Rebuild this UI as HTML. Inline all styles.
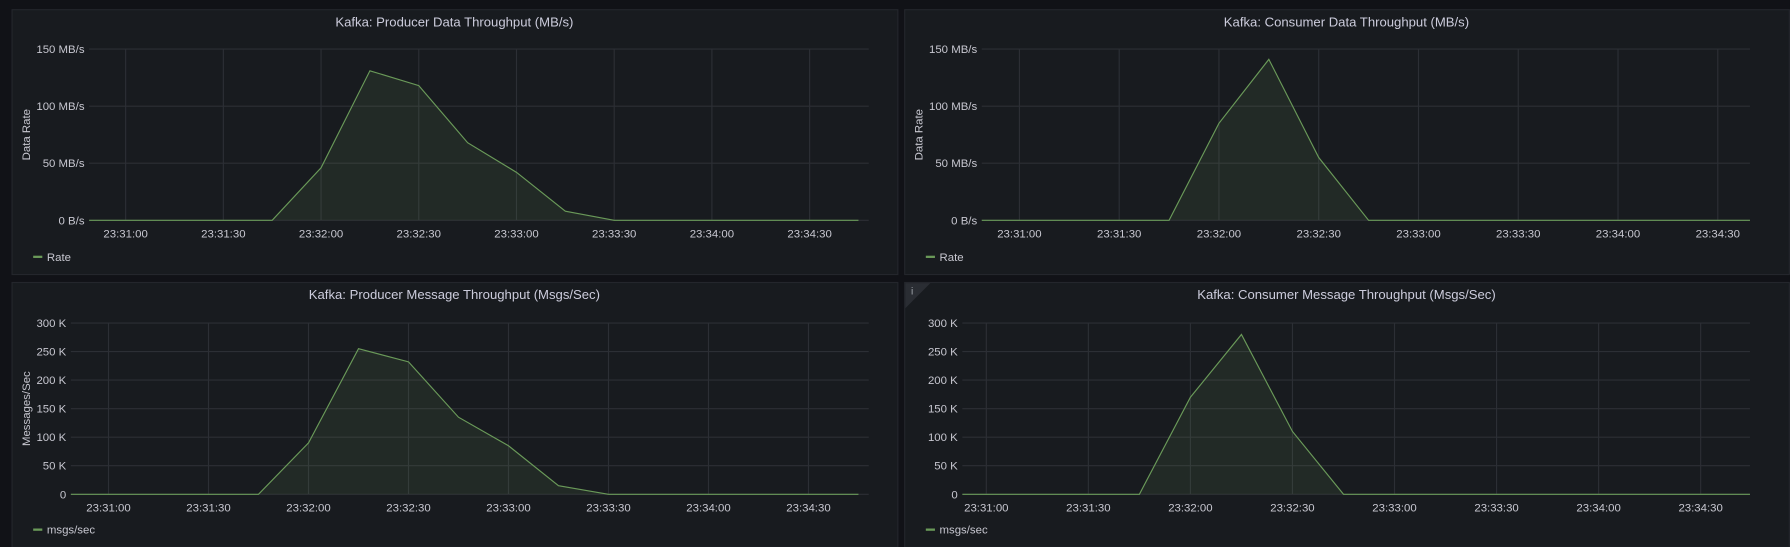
<!DOCTYPE html>
<html><head><meta charset="utf-8"><style>
html,body{margin:0;padding:0;background:#111217;}
svg{display:block;font-family:"Liberation Sans",sans-serif;}
</style></head><body>
<svg id="c" width="1790" height="547" viewBox="0 0 1568 479.2"></svg>
<script>
// data (time in seconds after 23:30:00)
const times = [45,60,75,90,105,120,135,150,165,180,195,210,225,240,255,270,285];
const tickLabels = ["23:31:00","23:31:30","23:32:00","23:32:30","23:33:00","23:33:30","23:34:00","23:34:30"];
const tickTimes = [60,90,120,150,180,210,240,270];
const producerMB = [0,0,0,0,0,46,131,118,68,42,8,0,0,0,0,0,0];
const consumerMB = [0,0,0,0,0,85,141,55,0,0,0,0,0,0,0,0,0];
const producerMsgs = [0,0,0,0,0,90,255,232,135,85,15,0,0,0,0,0,0];
const consumerMsgs = [0,0,0,0,0,170,280,110,0,0,0,0,0,0,0,0,0];
const mbTicks = [0,50,100,150];
const mbLabels = ["0 B/s","50 MB/s","100 MB/s","150 MB/s"];
const kTicks = [0,50,100,150,200,250,300];
const kLabels = ["0","50 K","100 K","150 K","200 K","250 K","300 K"];

const NS="http://www.w3.org/2000/svg";
const svg=document.getElementById('c');
function mk(tag,attrs,parent){const e=document.createElementNS(NS,tag);for(const k in attrs)e.setAttribute(k,attrs[k]);(parent||svg).appendChild(e);return e;}

const panels=[
 {name:'producer-data-throughput',title:'Kafka: Producer Data Throughput (MB/s)',px:10,py:8,pw:776,l:78,r:761,t0x:110,sp:85.6,top:43,bot:193,vals:producerMB,yt:mbTicks,yl:mbLabels,ymax:150,ytitle:'Data Rate',leg:'Rate',info:false},
 {name:'consumer-data-throughput',title:'Kafka: Consumer Data Throughput (MB/s)',px:792,py:8,pw:775,l:860,r:1533,t0x:893,sp:87.4,top:43,bot:193,vals:consumerMB,yt:mbTicks,yl:mbLabels,ymax:150,ytitle:'Data Rate',leg:'Rate',info:false},
 {name:'producer-message-throughput',title:'Kafka: Producer Message Throughput (Msgs/Sec)',px:10,py:247,pw:776,l:62,r:761,t0x:95,sp:87.6,top:283,bot:433,vals:producerMsgs,yt:kTicks,yl:kLabels,ymax:300,ytitle:'Messages/Sec',leg:'msgs/sec',info:false},
 {name:'consumer-message-throughput',title:'Kafka: Consumer Message Throughput (Msgs/Sec)',px:792,py:247,pw:775,l:843,r:1533,t0x:864,sp:89.4,top:283,bot:433,vals:consumerMsgs,yt:kTicks,yl:kLabels,ymax:300,ytitle:null,leg:'msgs/sec',info:true}
];

panels.forEach((p,i)=>{
 const g=mk('g',{});
 
 
 mk('rect',{x:p.px+0.5,y:p.py+0.5,width:p.pw,height:232,fill:'#181b1f',stroke:'#24262c','stroke-width':1},g);
 if(p.info){
  const tri=mk('path',{d:`M${p.px+1} ${p.py+1} h22 l-22 22 z`,fill:'#2a2d33'},g);
  
  
  const it=mk('text',{x:p.px+6,y:p.py+11,fill:'#a0a4ab','font-size':9},g);it.textContent='i';
 }
 const tt=mk('text',{x:p.px+p.pw/2,y:p.py+15,fill:'#ccccdc','font-size':11.5,'text-anchor':'middle'},g);
 tt.textContent=p.title;
 
 
 const X=t=>p.t0x+(t-60)/30*p.sp;
 const Y=v=>p.bot-(v/p.ymax)*(p.bot-p.top);
 p.yt.forEach((v,k)=>{
  mk('line',{x1:p.l,x2:p.r,y1:Y(v),y2:Y(v),stroke:'#2c2f35','stroke-width':1},g);
  const lb=mk('text',{x:p.l-4,y:Y(v)+3.5,fill:'#c7c7d0','font-size':10,'text-anchor':'end'},g);
  lb.textContent=p.yl[k];
  
  
 });
 tickTimes.forEach((t,k)=>{
  mk('line',{x1:X(t),x2:X(t),y1:p.top,y2:p.bot,stroke:'#2c2f35','stroke-width':1},g);
  const lb=mk('text',{x:X(t),y:p.bot+15,fill:'#c7c7d0','font-size':10,'text-anchor':'middle'},g);
  lb.textContent=tickLabels[k];
  
  
 });
 if(p.ytitle){
  const yt=mk('text',{x:0,y:0,fill:'#c7c7d0','font-size':10,'text-anchor':'middle',transform:`translate(${p.px+16},${(p.top+p.bot)/2}) rotate(-90)`},g);
  yt.textContent=p.ytitle;
  
  
 }
 const clipId='clip'+i;
 const cp=mk('clipPath',{id:clipId},g);
 mk('rect',{x:p.l,y:p.top-5,width:p.r-p.l,height:p.bot-p.top+6},cp);
 const pts=times.map((t,k)=>[X(t),Y(p.vals[k])]);
 const lineD='M'+pts.map(q=>q[0].toFixed(1)+' '+q[1].toFixed(1)).join(' L');
 const areaD=lineD+` L${pts[pts.length-1][0]} ${p.bot} L${pts[0][0]} ${p.bot} Z`;
 const sg=mk('g',{'clip-path':`url(#${clipId})`},g);
 const ar=mk('path',{d:areaD,fill:'rgba(126,178,109,0.1)'},sg);
 
 
 const ln=mk('path',{d:lineD,fill:'none',stroke:'#6a9a59','stroke-width':1},sg);
 
 
 const lx=p.px+19, ly=p.py+217;
 const lg=mk('g',{},g);
 
 
 mk('line',{x1:lx,x2:lx+8,y1:ly,y2:ly,stroke:'#6a9a59','stroke-width':2},lg);
 const lt=mk('text',{x:lx+12,y:ly+3.5,fill:'#c7c7d0','font-size':10},lg);
 lt.textContent=p.leg;
});
</script>
</body></html>
